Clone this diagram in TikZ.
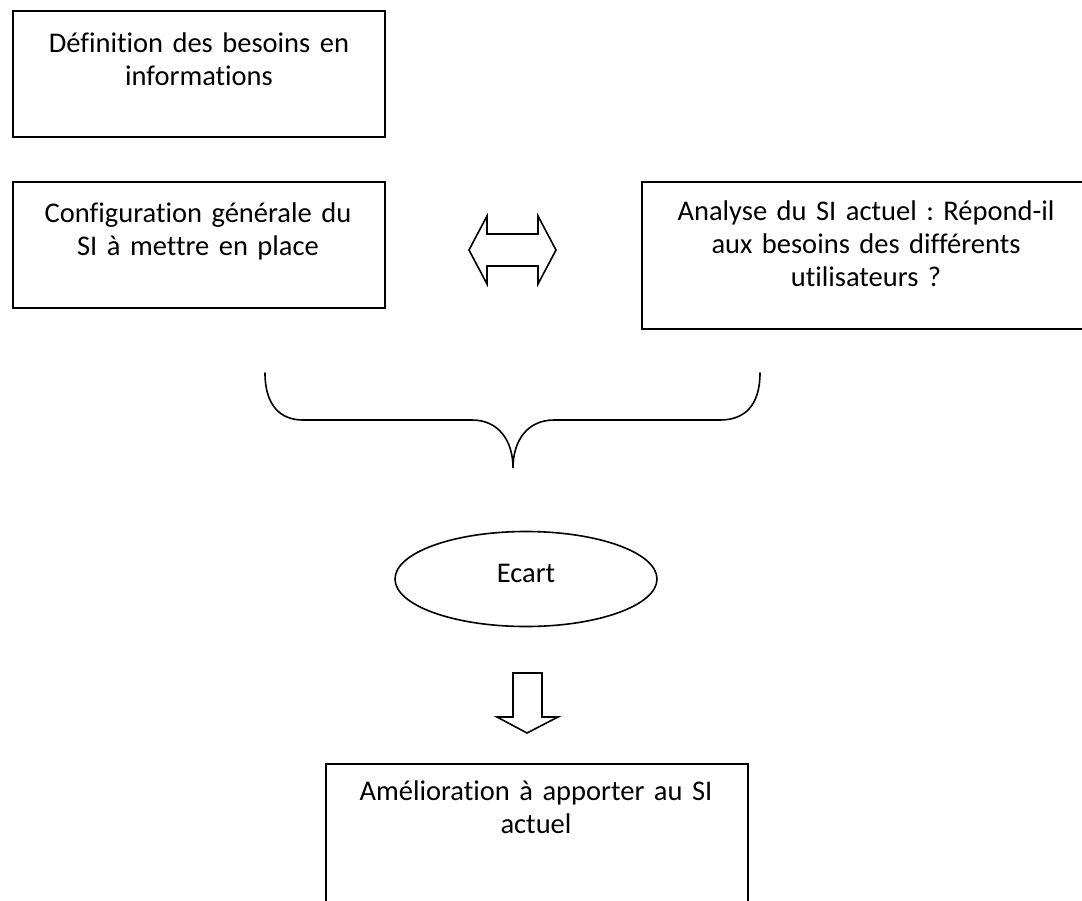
\documentclass[tikz,border=0pt]{standalone}
\usepackage{fontspec}
\setmainfont{Carlito}[Ligatures={NoCommon,NoContextual,NoRare}]
\usetikzlibrary{shapes.geometric}
\frenchspacing
\begin{document}
\begin{tikzpicture}[x=1pt,y=-1pt,
  box/.style={draw=black,line width=1.6pt,rectangle,inner sep=0pt,anchor=north west},
  label/.style={anchor=base,inner sep=0pt,text width=520pt,align=center,
                font=\fontsize{28.5}{33}\selectfont},
  outline/.style={draw=black,line width=1.6pt,line join=miter}]
  \useasboundingbox (0,0) rectangle (1082,900);
  \begin{scope}
  \clip (0,0) rectangle (1082,900);

  % boxes
  \node[box,minimum width=372pt,minimum height=126pt] (need) at (12,10) {};
  \node[box,minimum width=372pt,minimum height=126pt] (config) at (12,181) {};
  \node[box,minimum width=450pt,minimum height=147pt] (analyse) at (641,181) {};
  \node[box,minimum width=422pt,minimum height=175pt] (improve) at (325,763) {};

  % box texts
  \node[label] (needtxt) at (199,52) {Définition des besoins en\\informations};
  \node[label] (configtxt) at (198,222) {Configuration générale du\\SI à mettre en place};
  \node[label] (analysetxt) at (866,220) {Analyse du SI actuel : Répond-il\\aux besoins des différents\\utilisateurs ?};
  \node[label] (improvetxt) at (536,800) {Amélioration à apporter au SI\\actuel};

  % gap ellipse
  \node[draw=black,line width=1.6pt,ellipse,minimum width=262pt,minimum height=95pt,
        inner sep=0pt,text height=19pt,text depth=13pt,
        font=\fontsize{28.5}{33}\selectfont] (gap) at (526,579) {Ecart};

  % two-way block arrow
  \draw[outline] (469,250) -- (487,216) -- (487,234) -- (538,234) -- (538,216)
    -- (556,250) -- (538,284) -- (538,266) -- (487,266) -- (487,284) -- cycle;

  % brace gathering both analyses
  \draw[outline,line cap=round]
    (265,373) .. controls (265,405) and (280,420) .. (303,420) -- (472,420)
    .. controls (498,420) and (513,440) .. (513,468)
    .. controls (513,440) and (528,420) .. (554,420) -- (720,420)
    .. controls (745,420) and (760,405) .. (760,373);

  % downward block arrow
  \draw[outline] (513,673) -- (542,673) -- (542,717) -- (558,717) -- (527,733)
    -- (497,717) -- (513,717) -- cycle;
  \end{scope}
\end{tikzpicture}
\end{document}
